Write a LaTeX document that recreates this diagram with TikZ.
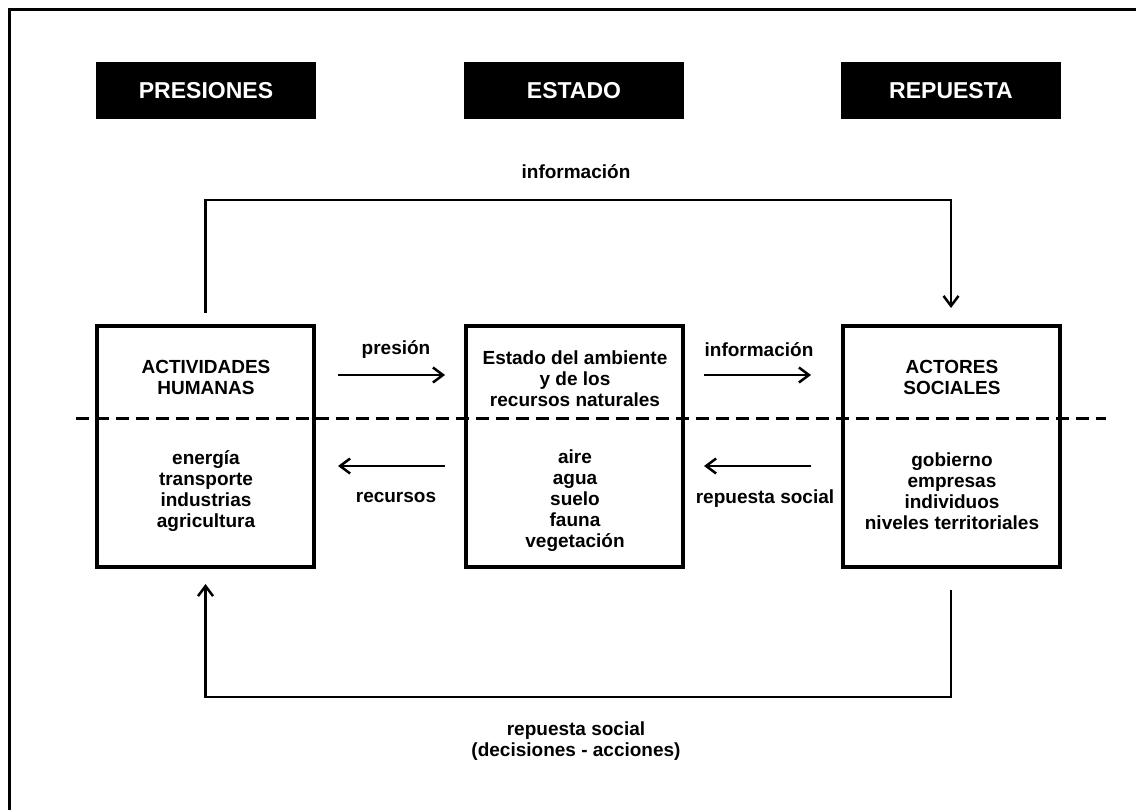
\documentclass[tikz,border=0pt]{standalone}
\usepackage{fontspec}
\setmainfont{Liberation Sans}
\usetikzlibrary{arrows.meta}
\begin{document}
\begin{tikzpicture}[x=1pt,y=-1pt,
  titlebox/.style={fill=black,text=white,font=\fontsize{23}{26}\selectfont\bfseries,minimum width=220pt,minimum height=57pt,inner sep=0pt},
  bigbox/.style={draw,line width=4pt,minimum width=217pt,minimum height=241pt,inner sep=0pt},
  txt/.style={font=\fontsize{19}{21}\selectfont\bfseries,align=center,inner sep=0pt},
  conn/.style={line width=2.5pt,-{Straight Barb[length=10pt,width=15pt,line width=2.5pt]}},
  divider/.style={line width=3pt,dash pattern=on 13pt off 7pt},
  frame/.style={line width=3pt}
  ]
\useasboundingbox (0,0) rectangle (1136,810);
% outer frame (left and top edges)
\draw[frame] (9,812) -- (9,10) -- (1138,10);

% column titles
\node[titlebox] (tp) at (206,90.5) {PRESIONES};
\node[titlebox] (te) at (574,90.5) {ESTADO};
\node[titlebox] (tr) at (951,90.5) {REPUESTA};

% main boxes
\node[bigbox] (act) at (205.5,446.5) {};
\node[bigbox] (est) at (574,446.5) {};
\node[bigbox] (soc) at (951,446.5) {};

% dashed divider
\coordinate (dl) at (76,419);
\coordinate (dr) at (1106,419);
\draw[divider] (dl) -- (dr);

% box texts
\node[txt] (actT) at (206,377.5) {ACTIVIDADES\\HUMANAS};
\node[txt] (actB) at (206,491) {energía\\transporte\\industrias\\agricultura};
\node[txt] (estT) at (575,378.5) {Estado del ambiente\\y de los\\recursos naturales};
\node[txt] (estB) at (575,501) {aire\\agua\\suelo\\fauna\\vegetación};
\node[txt] (socT) at (952,377.5) {ACTORES\\SOCIALES};
\node[txt] (socB) at (952,491) {gobierno\\empresas\\individuos\\niveles territoriales};

% horizontal arrows between boxes
\coordinate (a1) at (338,375);
\coordinate (a2) at (445,375);
\coordinate (b1) at (704,375);
\coordinate (b2) at (811,375);
\coordinate (c1) at (445,466);
\coordinate (c2) at (338,466);
\coordinate (d1) at (811,466);
\coordinate (d2) at (704,466);
\draw[conn] (a1) -- (a2);
\draw[conn] (b1) -- (b2);
\draw[conn] (c1) -- (c2);
\draw[conn] (d1) -- (d2);
\node[txt] (lp) at (396,350) {presión};
\node[txt] (li) at (759,350) {información};
\node[txt] (lr) at (396,497) {recursos};
\node[txt] (ls) at (765,499) {repuesta social};

% feedback loops
\coordinate (topline) at (575,200);
\coordinate (botline) at (575,697);
\draw[conn,shorten <=11pt,shorten >=16pt] (act.north) |- (topline) -| (soc.north);
\draw[conn,shorten <=21pt,shorten >=15pt] (soc.south) |- (botline) -| (act.south);
\node[txt] (ltop) at (576,172) {información};
\node[txt] (lbot) at (576,741) {repuesta social\\(decisiones - acciones)};
\end{tikzpicture}
\end{document}
